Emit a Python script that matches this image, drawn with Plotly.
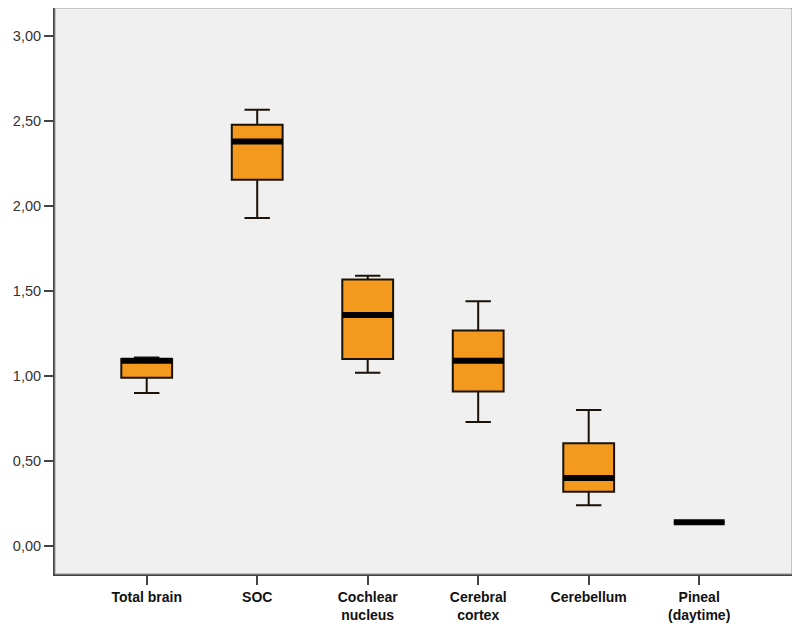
import plotly.graph_objects as go

categories = ["Total brain", "SOC", "Cochlear<br>nucleus", "Cerebral<br>cortex", "Cerebellum", "Pineal<br>(daytime)"]
lower_whisker = [0.90, 1.93, 1.02, 0.73, 0.24, 0.14]
q1 = [0.99, 2.155, 1.10, 0.91, 0.32, 0.14]
median = [1.09, 2.38, 1.36, 1.09, 0.40, 0.14]
q3 = [1.10, 2.478, 1.568, 1.268, 0.605, 0.14]
upper_whisker = [1.11, 2.566, 1.59, 1.44, 0.80, 0.14]
y_ticks = [0, 0.5, 1.0, 1.5, 2.0, 2.5, 3.0]

BOX_W = 0.46
xs = list(range(len(categories)))

fig = go.Figure()
fig.add_trace(go.Box(
    x=xs, q1=q1, median=median, q3=q3,
    lowerfence=lower_whisker, upperfence=upper_whisker,
    width=BOX_W, whiskerwidth=0.5,
    fillcolor="#F39A1E",
    line=dict(color="#1a1206", width=2),
    boxpoints=False, showlegend=False, hoverinfo="skip",
))
for i, m in enumerate(median):
    fig.add_trace(go.Scatter(
        x=[xs[i] - BOX_W / 2, xs[i] + BOX_W / 2], y=[m, m],
        mode="lines", line=dict(color="#000000", width=6),
        showlegend=False, hoverinfo="skip",
    ))

fig.update_layout(
    width=792, height=621,
    margin=dict(l=47, r=8, t=0, b=55),
    paper_bgcolor="white", plot_bgcolor="#F0F0F0",
    separators=",.",
    font=dict(family="Liberation Sans, Arial, sans-serif", color="#222"),
    shapes=[dict(type="rect", xref="paper", yref="paper", x0=0, y0=0, x1=1, y1=1,
                 line=dict(color="#999999", width=1), layer="above")],
)
fig.update_xaxes(
    range=[-0.83, 5.84], tickmode="array", tickvals=xs,
    ticktext=["<b>" + c + "</b>" for c in categories],
    tickfont=dict(size=14, color="#111"),
    ticks="outside", ticklen=9, tickwidth=1.5, tickcolor="#444",
    showgrid=False, zeroline=False, automargin=False,
    showline=True, linecolor="#444", linewidth=2,
)
fig.update_yaxes(
    range=[-0.164, 3.165], tickmode="array", tickvals=y_ticks, tickformat=".2f",
    tickfont=dict(size=14.5, color="#333"),
    ticks="outside", ticklen=9, tickwidth=1.5, tickcolor="#444",
    showgrid=False, zeroline=False, automargin=False,
    showline=True, linecolor="#444", linewidth=2,
)
fig.write_html("out.html")
